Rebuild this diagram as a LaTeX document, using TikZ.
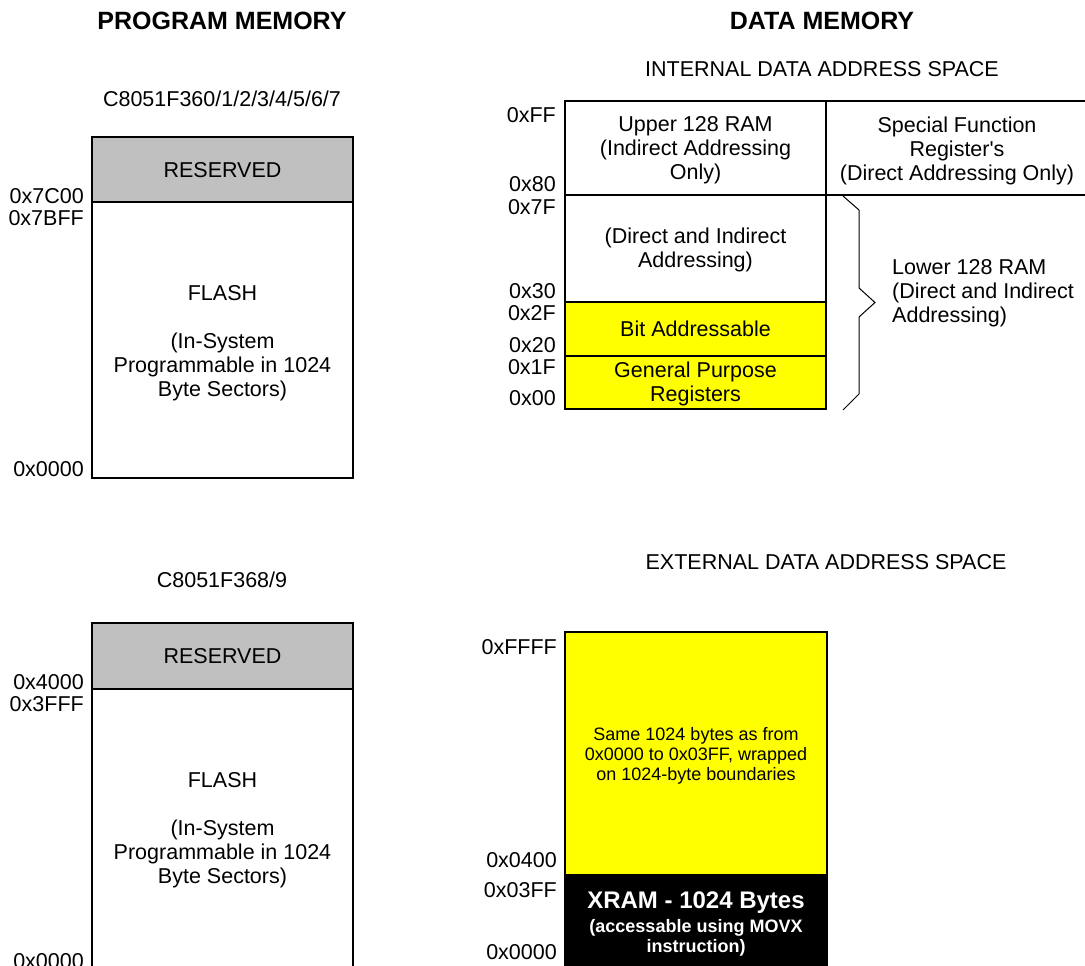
\documentclass[tikz,border=0pt]{standalone}
\usepackage{fontspec}
\setmainfont{Liberation Sans}
\newcommand\fmain{\fontsize{21.5}{24}\selectfont}
\newcommand\fhead{\fontsize{25}{28}\selectfont\bfseries}
\newcommand\fsmall{\fontsize{18}{20.3}\selectfont}
\newcommand\fsmallbold{\fontsize{18}{20.3}\selectfont\bfseries}
\newcommand\fxram{\fontsize{24}{27}\selectfont\bfseries}
\definecolor{resgray}{RGB}{192,192,192}
\definecolor{memyellow}{RGB}{255,255,0}
\tikzset{
  box/.style={draw=black, line width=1.5pt},
  txt/.style={font=\fmain, inner sep=0pt, align=center},
  head/.style={font=\fhead, inner sep=0pt},
  addr/.style={font=\fmain, inner sep=0pt, anchor=base east},
  bracepath/.style={draw=black, line width=1pt, line join=miter},
}
\begin{document}
\begin{tikzpicture}[x=1pt,y=-1pt]
\useasboundingbox (0,0) rectangle (1085,966);
\clip (0,0) rectangle (1085,966);
% headings
\node[head] (hprog) at (222,20.5) {PROGRAM MEMORY};
\node[head] (hdata) at (822,20.5) {DATA MEMORY};
\node[txt] (sprogA) at (222,99) {C8051F360/1/2/3/4/5/6/7};
\node[txt] (sint) at (822,69.5) {INTERNAL DATA ADDRESS SPACE};
\node[txt] (sprogB) at (222,580) {C8051F368/9};
\node[txt] (sext) at (826,562.5) {EXTERNAL DATA ADDRESS SPACE};
% program memory, top
\filldraw[box, fill=resgray] (92,137) rectangle (353,202);
\draw[box] (92,202) rectangle (353,478);
\node[txt] (resA) at (222.5,170) {RESERVED};
\node[txt] (flashA) at (222.5,343) {FLASH\\[24pt](In-System\\Programmable in 1024\\Byte Sectors)};
\node[addr] (aA1) at (84,203.5) {0x7C00};
\node[addr] (aA2) at (84,225) {0x7BFF};
\node[addr] (aA3) at (84,476.5) {0x0000};
% program memory, bottom
\filldraw[box, fill=resgray] (92,623) rectangle (353,689);
\draw[box] (92,689) rectangle (353,975);
\node[txt] (resB) at (222.5,656.5) {RESERVED};
\node[txt] (flashB) at (222.5,830) {FLASH\\[24pt](In-System\\Programmable in 1024\\Byte Sectors)};
\node[addr] (aB1) at (84,689) {0x4000};
\node[addr] (aB2) at (84,711) {0x3FFF};
\node[addr] (aB3) at (84,968) {0x0000};
% internal data memory
\fill[memyellow] (565,302) rectangle (826,409);
\draw[box] (1095,101) -- (565,101) -- (565,409) -- (826,409) -- (826,101);
\draw[box] (565,195) -- (1095,195);
\draw[box] (565,302) -- (826,302);
\draw[box] (565,356) -- (826,356);
\node[txt] (upper) at (695.5,150.5) {Upper 128 RAM\\(Indirect Addressing\\Only)};
\node[txt] (sfr) at (957,150.5) {Special Function\\Register\textquotesingle s\\(Direct Addressing Only)};
\node[txt] (dirind) at (695.5,250) {(Direct and Indirect\\Addressing)};
\node[txt] (bitadr) at (695.5,328.5) {Bit Addressable};
\node[txt] (gpr) at (695.5,384) {General Purpose\\Registers};
\draw[bracepath] (843,196) -- (859,210) -- (859,288) -- (875,302.5) -- (859,317) -- (859,394) -- (843,410);
\node[txt, align=left, anchor=west] (lower) at (892,293) {Lower 128 RAM\\(Direct and Indirect\\Addressing)};
\node[addr] (i1) at (556,122.5) {0xFF};
\node[addr] (i2) at (556,191) {0x80};
\node[addr] (i3) at (556,214) {0x7F};
\node[addr] (i4) at (556,298) {0x30};
\node[addr] (i5) at (556,320.5) {0x2F};
\node[addr] (i6) at (556,352) {0x20};
\node[addr] (i7) at (556,374.5) {0x1F};
\node[addr] (i8) at (556,405.5) {0x00};
% external data memory
\filldraw[box, fill=memyellow] (565,632) rectangle (827,875);
\filldraw[box, fill=black] (565,875) rectangle (827,980);
\node[txt, font=\fsmall] (wrap) at (696,756) {Same 1024 bytes as from\\0x0000 to 0x03FF, wrapped\\on 1024-byte boundaries};
\node[txt, font=\fsmallbold, text=white] (xram) at (696,924) {{\fxram XRAM - 1024 Bytes}\\[4.2pt](accessable using MOVX\\instruction)};
\node[addr] (e1) at (557,654.5) {0xFFFF};
\node[addr] (e2) at (557,867.5) {0x0400};
\node[addr] (e3) at (557,897) {0x03FF};
\node[addr] (e4) at (557,959) {0x0000};
\end{tikzpicture}
\end{document}
